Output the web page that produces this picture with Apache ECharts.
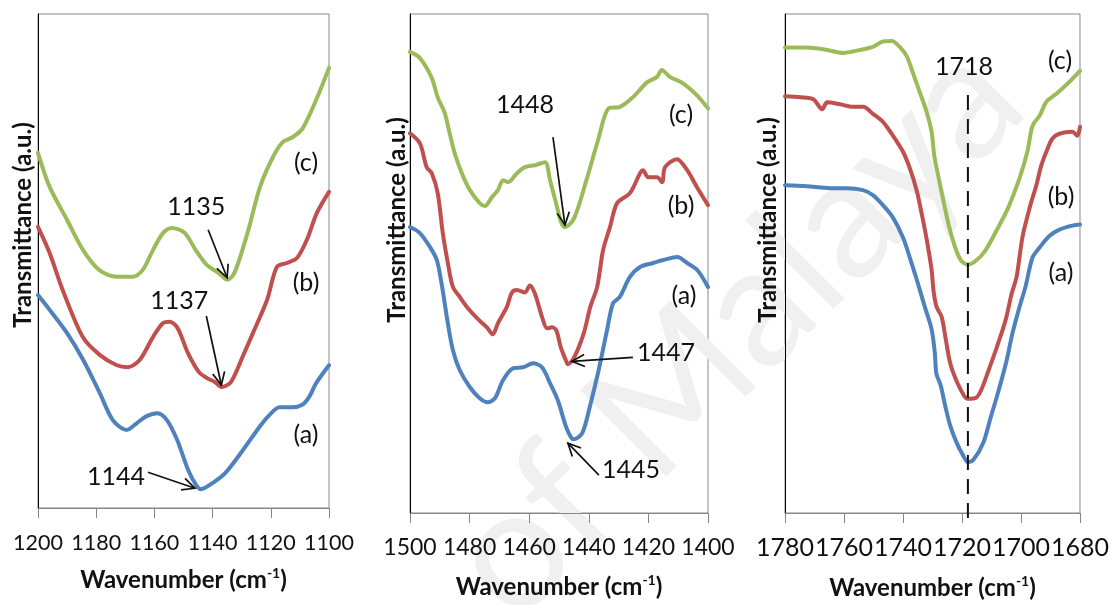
<!DOCTYPE html>
<html>
<head>
<meta charset="utf-8">
<title>FTIR spectra</title>
<script src="https://cdn.jsdelivr.net/npm/echarts@6/dist/echarts.min.js"></script>
<style>
  html, body { margin: 0; padding: 0; background: #ffffff; }
  #chart { width: 1112px; height: 605px; }
</style>
</head>
<body>
<div id="chart"></div>
<script>
// ---------- axis ranges (cm-1, plotted high to low) ----------
const ticks1 = [1200, 1180, 1160, 1140, 1120, 1100];
const ticks2 = [1500, 1480, 1460, 1440, 1420, 1400];
const ticks3 = [1780, 1760, 1740, 1720, 1700, 1680];

// ---------- panel 1: 1200-1100 cm-1 ----------
const wnC1 = [1200, 1196, 1190, 1184.5, 1179, 1173, 1167.5, 1164, 1160.5, 1157, 1154, 1149.6, 1145.8, 1142, 1138, 1135, 1132.5, 1128, 1123.7, 1119.2, 1115.8, 1112.4, 1109, 1104, 1100];
const tC1  = [71.9, 65.0, 58.3, 52.2, 48.2, 46.8, 46.8, 48.2, 52.2, 55.7, 56.7, 55.7, 52.2, 49.2, 47.6, 46.2, 47.6, 55.7, 65.0, 71.1, 74.1, 75.1, 76.9, 83.2, 89.1];

const wnB1 = [1200, 1196, 1191.5, 1184.6, 1178.8, 1172.9, 1169.1, 1165, 1160.5, 1157.1, 1154.7, 1152, 1148.5, 1144.7, 1141.9, 1139.2, 1137, 1133.7, 1129.7, 1125.7, 1121.3, 1117.9, 1114.5, 1111, 1107.6, 1104.2, 1100];
const tB1  = [56.9, 51.6, 44.1, 34.6, 31.0, 28.9, 28.5, 30.0, 34.6, 37.4, 37.7, 36.4, 31.4, 27.5, 26.3, 25.5, 24.5, 25.5, 30.6, 36.0, 42.1, 48.8, 49.6, 50.6, 54.3, 59.7, 64.0];

const wnA1 = [1200, 1196, 1190, 1184.5, 1178.8, 1174.3, 1169.5, 1166, 1162.7, 1158.9, 1155.7, 1152.2, 1148.4, 1145.7, 1144, 1139.9, 1135.6, 1129.6, 1123.9, 1120.5, 1117, 1112.6, 1109.2, 1106.8, 1104.4, 1100];
const tA1  = [43.1, 40.1, 35.4, 30.0, 23.3, 17.8, 15.8, 17.2, 18.6, 19.2, 17.8, 13.8, 7.7, 4.7, 3.8, 5.1, 7.1, 11.7, 16.4, 18.8, 20.4, 20.4, 20.9, 22.5, 25.3, 28.9];

// ---------- panel 2: 1500-1400 cm-1 ----------
const wnC2 = [1500, 1496.7, 1492.7, 1490.7, 1488.3, 1486.7, 1485, 1482.6, 1479.9, 1476.6, 1474.9, 1472.5, 1470.5, 1468.8, 1467.1, 1464.1, 1461.4, 1458.1, 1454.7, 1453, 1451, 1449.3, 1448, 1444.9, 1440.8, 1436.9, 1433.3, 1429.5, 1425.2, 1420.5, 1417.1, 1415.5, 1412.8, 1408.4, 1403.7, 1400];
const tC2  = [92.4, 91.2, 87.2, 83.3, 80.1, 76.1, 72.1, 68.1, 64.7, 62.1, 61.5, 63.3, 64.7, 66.7, 66.3, 68.1, 69.3, 69.7, 70.3, 66.7, 62.1, 58.3, 57.3, 59.1, 66.7, 74.7, 81.1, 81.4, 83.3, 86.3, 87.4, 88.8, 87.4, 86.1, 83.7, 81.1];

const wnB2 = [1500, 1496.7, 1494.4, 1492.7, 1490.7, 1489, 1487.3, 1485.6, 1483.3, 1480.9, 1477.6, 1474.2, 1472.2, 1470.5, 1467.5, 1465.8, 1464.1, 1461.4, 1459.8, 1458.1, 1455.7, 1454, 1452.4, 1450.9, 1449.4, 1447.7, 1447, 1444.9, 1441.7, 1439.5, 1437.2, 1435.2, 1432.9, 1430.5, 1426.2, 1422.8, 1421.8, 1420.1, 1417.1, 1415.4, 1414.4, 1410.4, 1407, 1403.7, 1400];
const tB2  = [76.1, 74.1, 69.3, 68.1, 64.1, 56.1, 50.1, 45.3, 43.3, 41.3, 39.1, 37.2, 35.8, 38.0, 41.3, 44.2, 44.7, 44.2, 45.6, 44.0, 39.3, 37.0, 37.2, 36.6, 33.2, 30.6, 29.8, 31.2, 36.0, 41.3, 45.3, 52.7, 57.3, 62.1, 64.1, 68.1, 68.7, 67.3, 67.3, 66.3, 69.3, 70.9, 68.7, 65.3, 61.7];

const wnA2 = [1500, 1496.7, 1493.3, 1491, 1489.3, 1487.3, 1485.6, 1483.3, 1479.9, 1476.6, 1473.9, 1471.5, 1468.8, 1465.5, 1462.1, 1458.7, 1455.7, 1453, 1450.4, 1447.6, 1445.8, 1445, 1442.2, 1439.7, 1436.7, 1433.9, 1431.9, 1429.6, 1426.2, 1422.8, 1418.4, 1415, 1410.3, 1407, 1403.6, 1400];
const tA2  = [57.3, 56.1, 53.3, 50.7, 45.6, 38.0, 32.6, 28.6, 25.2, 23.0, 22.2, 23.0, 26.6, 29.0, 29.2, 30.0, 29.2, 26.0, 22.6, 17.2, 15.0, 14.8, 16.0, 21.2, 28.6, 36.6, 42.0, 43.3, 47.3, 49.3, 50.1, 50.7, 51.3, 50.1, 48.7, 45.3];

// ---------- panel 3: 1780-1680 cm-1 ----------
const wnC3 = [1780, 1772.6, 1765.7, 1760.3, 1754.6, 1750.2, 1746.8, 1743.8, 1741.1, 1738.7, 1736.7, 1734.3, 1732, 1730.3, 1729.4, 1727.9, 1726, 1724.3, 1722.3, 1720.3, 1718, 1715.2, 1712.1, 1708.3, 1704.4, 1700.5, 1697.8, 1696.1, 1693.7, 1691.4, 1688, 1683.6, 1680];
const tC3  = [93.3, 93.3, 92.8, 92.2, 92.8, 93.4, 94.5, 94.6, 93.4, 91.5, 88.3, 84.3, 80.4, 76.4, 71.6, 67.1, 61.7, 57.2, 53.2, 50.6, 49.8, 50.6, 52.6, 56.6, 61.1, 67.1, 72.5, 77.6, 79.6, 82.4, 84.0, 86.4, 88.6];

const wnB3 = [1780, 1774.8, 1770.4, 1767.4, 1765.7, 1761.3, 1756.9, 1753.5, 1750.2, 1746.8, 1743.4, 1740, 1737.7, 1735.3, 1733.6, 1731.9, 1730.3, 1729.6, 1728.6, 1726.9, 1725.5, 1724, 1722.1, 1719.3, 1718, 1715.2, 1713.3, 1710.8, 1708.1, 1705.2, 1703.2, 1701.5, 1699.5, 1697.1, 1694.8, 1693.1, 1691.4, 1689.4, 1687, 1682.6, 1680.9, 1680];
const tB3  = [83.5, 83.3, 82.9, 80.9, 82.3, 81.9, 81.4, 81.4, 80.0, 78.4, 75.6, 72.4, 69.1, 64.5, 59.8, 54.6, 48.7, 44.3, 41.3, 39.3, 34.8, 30.0, 26.8, 23.5, 22.9, 23.1, 24.9, 28.9, 33.4, 38.7, 43.9, 47.3, 55.3, 61.1, 65.7, 69.7, 72.4, 75.0, 76.0, 76.4, 75.6, 77.4];

const wnA3 = [1780, 1772.6, 1764.7, 1759, 1753.6, 1750.2, 1746.8, 1743.4, 1740, 1737.7, 1735.3, 1734, 1732.6, 1730.3, 1729.2, 1728.7, 1727.2, 1725.7, 1724, 1721.9, 1719.7, 1718, 1716.2, 1712.7, 1710.4, 1707.8, 1705.1, 1702.9, 1700.5, 1698.5, 1696.1, 1693.7, 1690.4, 1687, 1682.6, 1680];
const tA3  = [65.7, 65.5, 65.1, 65.1, 64.7, 63.7, 61.7, 59.2, 55.2, 51.2, 46.7, 44.1, 41.3, 36.8, 32.0, 28.0, 25.5, 21.5, 17.5, 14.2, 11.6, 10.2, 10.6, 14.2, 18.9, 24.1, 30.0, 36.0, 41.3, 45.3, 51.2, 53.2, 55.5, 56.8, 57.6, 57.8];

// ---------- peak assignments ----------
const peaks1 = [['c', 1135], ['b', 1137], ['a', 1144]];
const peaks2 = [['c', 1448], ['b', 1447], ['a', 1445]];
const peak3 = 1718;
const sampleTags = ['(a)', '(b)', '(c)'];

// ---------- drawing ----------
const COLORS = { a: '#4F81BD', b: '#C0504D', c: '#9BBB59' };
const FONT = 'Lato, "Open Sans", sans-serif';

const panels = [
  { ticks: ticks1, grid: { left: 38, top: 14, width: 291, height: 494 }, tickFont: 21.5, margin: 24, nameGap: 58,
    series: { a: [wnA1, tA1], b: [wnB1, tB1], c: [wnC1, tC1] } },
  { ticks: ticks2, grid: { left: 410, top: 14, width: 298, height: 499 }, tickFont: 23, margin: 23, nameGap: 60,
    series: { a: [wnA2, tA2], b: [wnB2, tB2], c: [wnC2, tC2] } },
  { ticks: ticks3, grid: { left: 785, top: 14, width: 296, height: 504 }, tickFont: 25, margin: 22, nameGap: 61,
    series: { a: [wnA3, tA3], b: [wnB3, tB3], c: [wnC3, tC3] } }
];

const pairs = (w, t) => w.map((x, i) => [x, t[i]]);

const chart = echarts.init(document.getElementById('chart'), null, { renderer: 'canvas' });

const grids = [], xAxes = [], yAxes = [], series = [];
panels.forEach((p, i) => {
  grids.push(Object.assign({ show: true, borderColor: '#8a8a8a', borderWidth: 1, containLabel: false }, p.grid));
  xAxes.push({
    gridIndex: i, type: 'value', inverse: true,
    min: Math.min(...p.ticks), max: Math.max(...p.ticks), interval: 20,
    axisLine: { show: true, onZero: false, lineStyle: { color: '#868686', width: 1 } },
    axisTick: { show: true, inside: false, length: 10, lineStyle: { color: '#868686', width: 1 } },
    splitLine: { show: false },
    axisLabel: {
      fontFamily: FONT, fontSize: p.tickFont, color: '#111', margin: p.margin,
      interval: 0, showMinLabel: true, showMaxLabel: true, hideOverlap: false,
      formatter: v => String(v)
    },
    name: '{b|Wavenumber (cm}{s|-1}{b|)}',
    nameLocation: 'middle', nameGap: p.nameGap,
    nameTextStyle: {
      rich: {
        b: { fontFamily: FONT, fontWeight: 'bold', fontSize: 24, color: '#111', lineHeight: 28 },
        s: { fontFamily: FONT, fontWeight: 'bold', fontSize: 14, color: '#111', verticalAlign: 'top', lineHeight: 16 }
      }
    }
  });
  yAxes.push({
    gridIndex: i, type: 'value', min: 0, max: 100,
    axisLine: { show: true, lineStyle: { color: '#000', width: 1 } },
    axisTick: { show: false }, axisLabel: { show: false }, splitLine: { show: false }
  });
  ['a', 'b', 'c'].forEach(k => {
    const [w, t] = p.series[k];
    series.push({
      id: 'p' + i + k, name: k, type: 'line', xAxisIndex: i, yAxisIndex: i,
      data: pairs(w, t), showSymbol: false, smooth: 0.3, clip: true, z: 3,
      lineStyle: { color: COLORS[k], width: 4, cap: 'round', join: 'round' },
      emphasis: { disabled: true }
    });
  });
});

chart.setOption({
  animation: false,
  backgroundColor: '#ffffff',
  grid: grids, xAxis: xAxes, yAxis: yAxes, series: series
});

// ---------- annotations ----------
function txt(x, y, text, size, extra) {
  return Object.assign({
    type: 'text', x: x, y: y, z: 20,
    style: { text: text, font: size + 'px ' + FONT, fill: '#111',
             align: 'center', verticalAlign: 'middle', textAlign: 'center', textVerticalAlign: 'middle' }
  }, extra || {});
}
function arrow(tail, tip) {
  const ang = Math.atan2(tip[1] - tail[1], tip[0] - tail[0]);
  const L = 14, spread = 0.45;
  const h1 = [tip[0] - L * Math.cos(ang - spread), tip[1] - L * Math.sin(ang - spread)];
  const h2 = [tip[0] - L * Math.cos(ang + spread), tip[1] - L * Math.sin(ang + spread)];
  return [
    { type: 'line', z: 20, shape: { x1: tail[0], y1: tail[1], x2: tip[0], y2: tip[1] }, style: { stroke: '#111', lineWidth: 1.7 } },
    { type: 'polyline', z: 20, shape: { points: [h1, tip, h2] }, style: { stroke: '#111', lineWidth: 1.7, fill: null } }
  ];
}
function peakPixel(gi, key, wn) {
  const [w, t] = panels[gi].series[key];
  const idx = w.indexOf(wn);
  return chart.convertToPixel({ gridIndex: gi }, [w[idx], t[idx]]);
}

// offsets: [tip from peak], [tail from tip], [label from tip]
const arrowLayout = {
  '0c': [[0, -2], [-19, -48], [-31, -71]],
  '0b': [[0, -2], [-15, -69], [-42, -84]],
  '0a': [[-6, -1], [-47, -16], [-79, -11]],
  '1c': [[0, -2], [-12, -88], [-40, -120]],
  '1b': [[4, -3], [61, -4], [94, -8]],
  '1a': [[-6, 4], [31, 32], [63, 27]]
};

const graphics = [];

// faint background watermark
graphics.push({
  type: 'text', x: 735, y: 330, rotation: Math.PI / 4, z: 0, silent: true,
  style: { text: 'of Malaya', font: '170px ' + FONT, fill: '#f0f0f0',
           align: 'center', verticalAlign: 'middle', textAlign: 'center', textVerticalAlign: 'middle' }
});

[[0, peaks1], [1, peaks2]].forEach(([gi, list]) => {
  list.forEach(([key, wn]) => {
    const P = peakPixel(gi, key, wn);
    const [dTip, dTail, dTxt] = arrowLayout[gi + key];
    const tip = [P[0] + dTip[0], P[1] + dTip[1]];
    const tail = [tip[0] + dTail[0], tip[1] + dTail[1]];
    graphics.push(...arrow(tail, tip));
    graphics.push(txt(tip[0] + dTxt[0], tip[1] + dTxt[1], String(wn), 25));
  });
});

// carbonyl band marker
const xPeak3 = chart.convertToPixel({ gridIndex: 2 }, [peak3, 0])[0];
graphics.push({
  type: 'line', z: 20, shape: { x1: xPeak3, y1: 95, x2: xPeak3, y2: 526 },
  style: { stroke: '#111', lineWidth: 2, lineDash: [15, 9] }
});
graphics.push(txt(xPeak3 - 4, 67, String(peak3), 25));

// sample tags (a), (b), (c)
const tagPos = [
  [[306, 435], [306, 283], [306, 163]],
  [[684, 296], [681, 206], [681, 115]],
  [[1061, 273], [1061, 197], [1060, 61]]
];
tagPos.forEach(list => list.forEach((xy, k) => graphics.push(txt(xy[0], xy[1], sampleTags[k], 25))));

// y-axis titles
[[23, 225], [397, 220], [768, 220]].forEach(([x, y]) => {
  graphics.push({
    type: 'text', x: x, y: y, rotation: Math.PI / 2, z: 20,
    style: { text: 'Transmittance (a.u.)', font: 'bold 24px ' + FONT, fill: '#111',
             align: 'center', verticalAlign: 'middle', textAlign: 'center', textVerticalAlign: 'middle' }
  });
});

chart.setOption({ graphic: graphics });
</script>
</body>
</html>
